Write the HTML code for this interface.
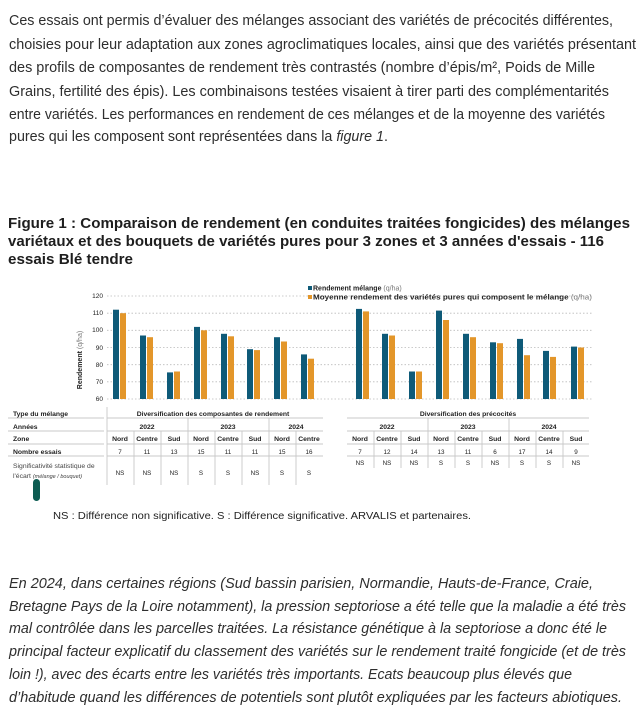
<!DOCTYPE html>
<html><head><meta charset="utf-8"><style>
html,body{margin:0;padding:0;background:#fff;width:640px;height:723px;overflow:hidden}
svg{display:block}
.p{font-family:"Liberation Sans",sans-serif;font-size:15px;fill:#2e2e2e}
.i{font-style:italic}
.t{font-family:"Liberation Sans",sans-serif;font-size:14.5px;font-weight:bold;fill:#1e1e1e}
.s{font-family:"Liberation Sans",sans-serif;fill:#222}
.b{font-weight:bold}
</style></head><body>
<svg width="640" height="723" viewBox="0 0 640 723" xmlns="http://www.w3.org/2000/svg">
<g class="p" lengthAdjust="spacingAndGlyphs">
<text x="9" y="25" textLength="604" lengthAdjust="spacingAndGlyphs">Ces essais ont permis d’évaluer des mélanges associant des variétés de précocités différentes,</text>
<text x="9" y="49" textLength="627" lengthAdjust="spacingAndGlyphs">choisies pour leur adaptation aux zones agroclimatiques locales, ainsi que des variétés présentant</text>
<text x="9" y="72" textLength="586" lengthAdjust="spacingAndGlyphs">des profils de composantes de rendement très contrastés (nombre d’épis/m², Poids de Mille</text>
<text x="9" y="96" textLength="600" lengthAdjust="spacingAndGlyphs">Grains, fertilité des épis). Les combinaisons testées visaient à tirer parti des complémentarités</text>
<text x="9" y="119" textLength="596" lengthAdjust="spacingAndGlyphs">entre variétés. Les performances en rendement de ces mélanges et de la moyenne des variétés</text>
<text x="9" y="141" textLength="379" lengthAdjust="spacingAndGlyphs">pures qui les composent sont représentées dans la <tspan class="i">figure 1</tspan>.</text>
</g>
<g class="t">
<text x="8" y="228" textLength="622" lengthAdjust="spacingAndGlyphs">Figure 1 : Comparaison de rendement (en conduites traitées fongicides) des mélanges</text>
<text x="8" y="246" textLength="596" lengthAdjust="spacingAndGlyphs">variétaux et des bouquets de variétés pures pour 3 zones et 3 années d'essais - 116</text>
<text x="8" y="264" textLength="125" lengthAdjust="spacingAndGlyphs">essais Blé tendre</text>
</g>
<!-- chart grid -->
<g stroke="#bbb" stroke-width="0.8" stroke-dasharray="1.5,2">
<line x1="107" x2="592" y1="296" y2="296"/><line x1="107" x2="592" y1="313.2" y2="313.2"/>
<line x1="107" x2="592" y1="330.3" y2="330.3"/><line x1="107" x2="592" y1="347.5" y2="347.5"/>
<line x1="107" x2="592" y1="364.7" y2="364.7"/><line x1="107" x2="592" y1="381.8" y2="381.8"/>
<line x1="107" x2="592" y1="399" y2="399"/>
</g>
<g class="s" font-size="6.5" text-anchor="end" fill="#444">
<text x="103" y="298">120</text><text x="103" y="315">110</text><text x="103" y="332">100</text>
<text x="103" y="350">90</text><text x="103" y="367">80</text><text x="103" y="384">70</text><text x="103" y="401">60</text>
</g>
<text class="s" font-size="7" transform="translate(82,360) rotate(-90)" text-anchor="middle"><tspan class="b">Rendement</tspan> <tspan fill="#777">(q/ha)</tspan></text>
<g fill="#0e5a78">
<rect x="113" y="309.7" width="6" height="89.3"/><rect x="140" y="335.5" width="6" height="63.5"/><rect x="167" y="372.4" width="6" height="26.6"/>
<rect x="194" y="326.9" width="6" height="72.1"/><rect x="221" y="333.8" width="6" height="65.2"/><rect x="247" y="349.2" width="6" height="49.8"/>
<rect x="274" y="337.2" width="6" height="61.8"/><rect x="301" y="354.4" width="6" height="44.6"/>
<rect x="356" y="308.9" width="6" height="90.1"/><rect x="382" y="333.8" width="6" height="65.2"/><rect x="409" y="371.5" width="6" height="27.5"/>
<rect x="436" y="310.6" width="6" height="88.4"/><rect x="463" y="333.8" width="6" height="65.2"/><rect x="490" y="342.3" width="6" height="56.7"/>
<rect x="517" y="338.9" width="6" height="60.1"/><rect x="543" y="350.9" width="6" height="48.1"/><rect x="571" y="346.6" width="6" height="52.4"/>
</g>
<g fill="#e3962a">
<rect x="120" y="313.2" width="6" height="85.8"/><rect x="147" y="337.2" width="6" height="61.8"/><rect x="174" y="371.5" width="6" height="27.5"/>
<rect x="201" y="330.3" width="6" height="68.7"/><rect x="228" y="336.3" width="6" height="62.7"/><rect x="254" y="350.1" width="6" height="48.9"/>
<rect x="281" y="341.5" width="6" height="57.5"/><rect x="308" y="358.7" width="6" height="40.3"/>
<rect x="363" y="311.4" width="6" height="87.6"/><rect x="389" y="335.5" width="6" height="63.5"/><rect x="416" y="371.5" width="6" height="27.5"/>
<rect x="443" y="320" width="6" height="79"/><rect x="470" y="337.2" width="6" height="61.8"/><rect x="497" y="343.2" width="6" height="55.8"/>
<rect x="524" y="355.2" width="6" height="43.8"/><rect x="550" y="356.9" width="6" height="42.1"/><rect x="578" y="347.5" width="6" height="51.5"/>
</g>
<!-- legend -->
<rect x="308" y="286" width="4" height="4" fill="#0e5a78"/>
<rect x="308" y="295" width="4" height="4" fill="#e3962a"/>
<text class="s" font-size="7" x="313" y="290.5"><tspan class="b">Rendement mélange</tspan> <tspan fill="#777">(q/ha)</tspan></text>
<text class="s" font-size="7" x="313" y="299.5" textLength="279" lengthAdjust="spacingAndGlyphs"><tspan class="b">Moyenne rendement  des variétés pures qui composent le mélange</tspan> <tspan fill="#777">(q/ha)</tspan></text>
<!-- tables lines -->
<g stroke="#c8c8c8" stroke-width="0.9">
<line x1="8" x2="104" y1="418" y2="418"/><line x1="8" x2="104" y1="431" y2="431"/><line x1="8" x2="104" y1="444" y2="444"/><line x1="8" x2="104" y1="456" y2="456"/>
<line x1="107" x2="323" y1="418" y2="418"/><line x1="107" x2="323" y1="431" y2="431"/><line x1="107" x2="323" y1="444" y2="444"/><line x1="107" x2="323" y1="456" y2="456"/>
<line x1="107" x2="107" y1="407" y2="485"/>
<line x1="188" x2="188" y1="418" y2="485"/><line x1="269" x2="269" y1="418" y2="485"/>
<line x1="134" x2="134" y1="431" y2="485"/><line x1="161" x2="161" y1="431" y2="485"/>
<line x1="215" x2="215" y1="431" y2="485"/><line x1="242" x2="242" y1="431" y2="485"/><line x1="296" x2="296" y1="431" y2="485"/>
<line x1="347" x2="589" y1="418" y2="418"/><line x1="347" x2="589" y1="431" y2="431"/><line x1="347" x2="589" y1="444" y2="444"/><line x1="347" x2="589" y1="456" y2="456"/>
<line x1="428" x2="428" y1="418" y2="468"/><line x1="509" x2="509" y1="418" y2="468"/>
<line x1="374" x2="374" y1="431" y2="468"/><line x1="401" x2="401" y1="431" y2="468"/><line x1="455" x2="455" y1="431" y2="468"/>
<line x1="482" x2="482" y1="431" y2="468"/><line x1="536" x2="536" y1="431" y2="468"/><line x1="563" x2="563" y1="431" y2="468"/>
</g>
<g class="s" font-size="6.8">
<text x="13" y="416" class="b">Type du mélange</text>
<text x="13" y="429" class="b">Années</text>
<text x="13" y="441" class="b">Zone</text>
<text x="13" y="454" class="b">Nombre essais</text>
<text x="13" y="468" fill="#444">Significativité statistique de</text>
<text x="13" y="478" fill="#444">l'écart <tspan font-style="italic" font-size="5.5">(mélange / bouquet)</tspan></text>
</g>
<g class="s b" font-size="6.8" text-anchor="middle">
<text x="213" y="416">Diversification des composantes de rendement</text>
<text x="468" y="416">Diversification des précocités</text>
<text x="147" y="429">2022</text><text x="228" y="429">2023</text><text x="296" y="429">2024</text>
<text x="387" y="429">2022</text><text x="468" y="429">2023</text><text x="549" y="429">2024</text>
<text x="120" y="441">Nord</text><text x="147" y="441">Centre</text><text x="174" y="441">Sud</text>
<text x="201" y="441">Nord</text><text x="228" y="441">Centre</text><text x="255" y="441">Sud</text>
<text x="282" y="441">Nord</text><text x="309" y="441">Centre</text>
<text x="360" y="441">Nord</text><text x="387" y="441">Centre</text><text x="414" y="441">Sud</text>
<text x="441" y="441">Nord</text><text x="468" y="441">Centre</text><text x="495" y="441">Sud</text>
<text x="522" y="441">Nord</text><text x="549" y="441">Centre</text><text x="576" y="441">Sud</text>
</g>
<g class="s" font-size="6.3" text-anchor="middle">
<text x="120" y="454">7</text><text x="147" y="454">11</text><text x="174" y="454">13</text>
<text x="201" y="454">15</text><text x="228" y="454">11</text><text x="255" y="454">11</text>
<text x="282" y="454">15</text><text x="309" y="454">16</text>
<text x="360" y="454">7</text><text x="387" y="454">12</text><text x="414" y="454">14</text>
<text x="441" y="454">13</text><text x="468" y="454">11</text><text x="495" y="454">6</text>
<text x="522" y="454">17</text><text x="549" y="454">14</text><text x="576" y="454">9</text>
<text x="120" y="475">NS</text><text x="147" y="475">NS</text><text x="174" y="475">NS</text>
<text x="201" y="475">S</text><text x="228" y="475">S</text><text x="255" y="475">NS</text>
<text x="282" y="475">S</text><text x="309" y="475">S</text>
<text x="360" y="465">NS</text><text x="387" y="465">NS</text><text x="414" y="465">NS</text>
<text x="441" y="465">S</text><text x="468" y="465">S</text><text x="495" y="465">NS</text>
<text x="522" y="465">S</text><text x="549" y="465">S</text><text x="576" y="465">NS</text>
</g>
<rect x="33" y="479" width="7" height="22" rx="3.5" fill="#0d5c52"/>
<text class="s" font-size="10.5" x="53" y="519" textLength="418" lengthAdjust="spacingAndGlyphs" fill="#333">NS : Différence non significative. S : Différence significative. ARVALIS et partenaires.</text>
<g class="p i">
<text x="9" y="588" textLength="584" lengthAdjust="spacingAndGlyphs">En 2024, dans certaines régions (Sud bassin parisien, Normandie, Hauts-de-France, Craie,</text>
<text x="9" y="611" textLength="617" lengthAdjust="spacingAndGlyphs">Bretagne Pays de la Loire notamment), la pression septoriose a été telle que la maladie a été très</text>
<text x="9" y="633" textLength="598" lengthAdjust="spacingAndGlyphs">mal contrôlée dans les parcelles traitées. La résistance génétique à la septoriose a donc été le</text>
<text x="9" y="656" textLength="617" lengthAdjust="spacingAndGlyphs">principal facteur explicatif du classement des variétés sur le rendement traité fongicide (et de très</text>
<text x="9" y="679" textLength="563" lengthAdjust="spacingAndGlyphs">loin !), avec des écarts entre les variétés très importants. Ecats beaucoup plus élevés que</text>
<text x="9" y="702" textLength="613" lengthAdjust="spacingAndGlyphs">d’habitude quand les différences de potentiels sont plutôt expliquées par les facteurs abiotiques.</text>
</g>
</svg>
</body></html>
